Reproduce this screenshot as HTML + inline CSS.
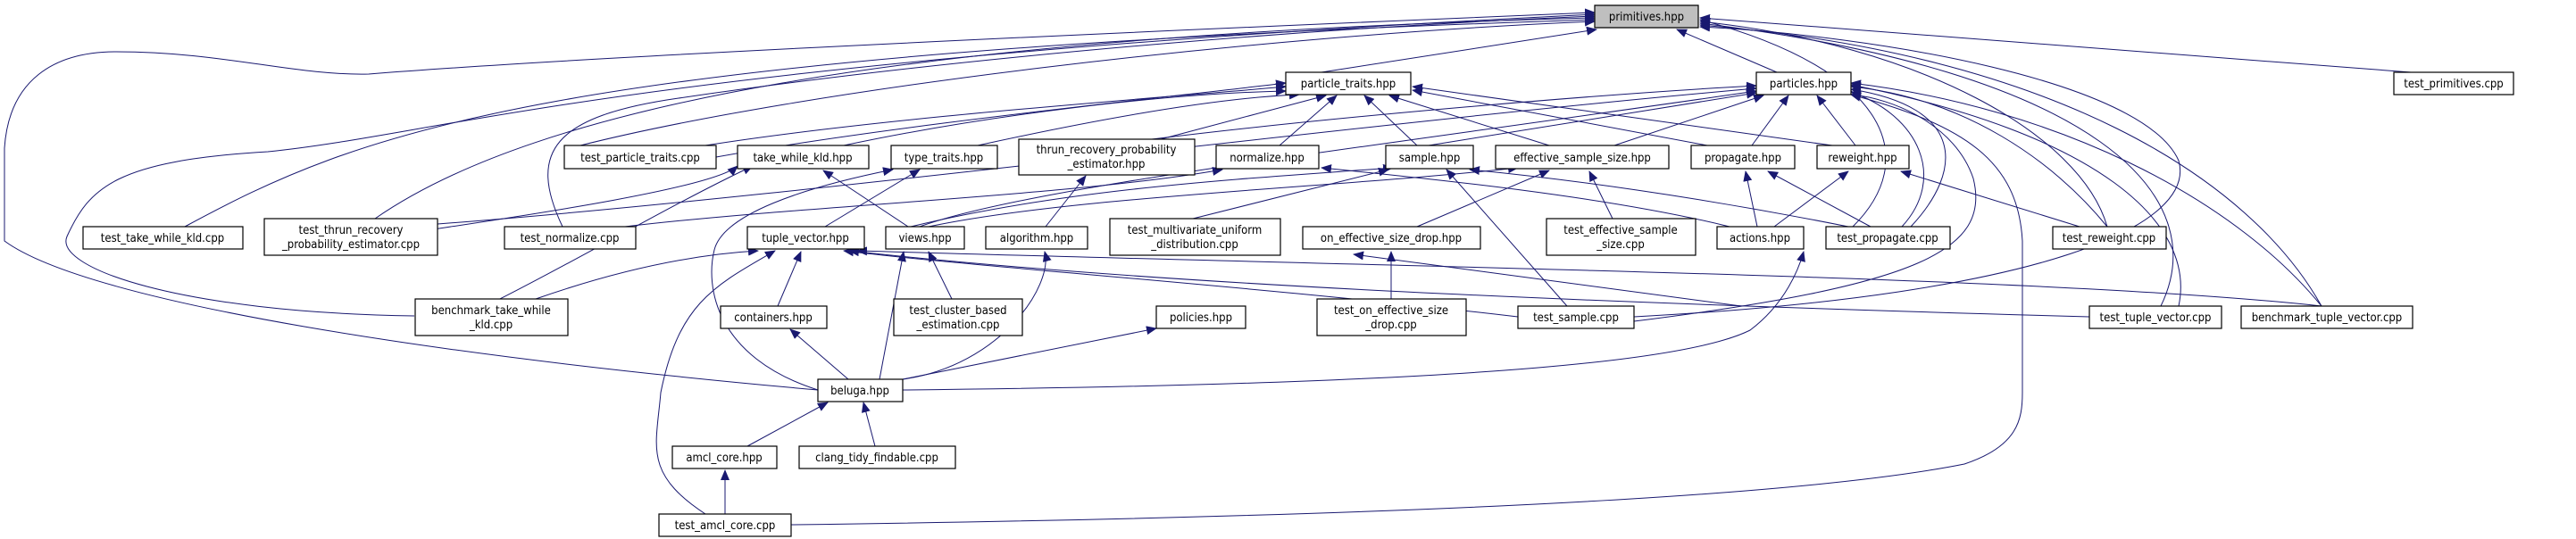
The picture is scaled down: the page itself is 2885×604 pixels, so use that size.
<!DOCTYPE html>
<html><head><meta charset="utf-8"><style>
html,body{margin:0;padding:0;background:#fff;}
svg{display:block}
text{font-family:"DejaVu Sans Condensed","Liberation Sans",sans-serif;font-size:13px;fill:#000}
.n{fill:#fff;stroke:#000;stroke-width:1.2}
.e{fill:none;stroke:#191970;stroke-width:1}
</style></head><body>
<svg width="2885" height="604" viewBox="0 0 2885 604" xmlns="http://www.w3.org/2000/svg">
<defs><marker id="a" markerWidth="12" markerHeight="10" refX="11" refY="5" orient="auto" markerUnits="userSpaceOnUse"><path d="M0,0 L12,5 L0,10 Z" fill="#191970"/></marker></defs>
<g class="e" marker-end="url(#a)">
<!-- to primitives -->
<path d="M1480,81 L1788,33"/>
<path d="M1990,81 L1878,33"/>
<path d="M2700,81 L1904,20"/>
<path d="M650,163 C900,100 1400,40 1786,24"/>
<path d="M207,254 C400,150 600,60 1786,22"/>
<path d="M420,245 C600,120 1000,40 1786,20"/>
<path d="M630,254 C590,170 620,130 760,110 C1100,60 1500,30 1786,18"/>
<path d="M464,354 C200,350 60,300 75,265 C100,210 130,180 300,170 C500,150 700,70 1786,16"/>
<path d="M916,437 C500,400 100,340 5,270 L5,166 C10,90 60,58 130,58 C250,58 330,85 413,83 C700,60 1400,30 1786,14"/>
<path d="M2075,254 C2150,180 2120,80 1904,22"/>
<path d="M2360,254 C2330,150 2150,50 1904,24"/>
<path d="M2420,343 C2480,220 2350,80 1904,26"/>
<path d="M2600,343 C2520,200 2300,60 1904,28"/>
<path d="M1830,355 C2300,330 2460,250 2440,180 C2400,90 2100,40 1904,30"/>
<!-- to particle_traits -->
<path d="M790,163 C1000,130 1300,110 1440,97"/>
<path d="M945,163 C1100,130 1300,105 1440,102"/>
<path d="M1095,163 C1200,140 1350,110 1455,106"/>
<path d="M1300,156 L1485,107"/>
<path d="M1433,163 L1497,107"/>
<path d="M1587,163 L1528,107"/>
<path d="M1735,163 L1556,107"/>
<path d="M1912,163 L1582,101"/>
<path d="M2052,163 L1582,97"/>
<path d="M802,176 C1000,140 1300,110 1440,93"/>
<!-- to particles -->
<path d="M1290,156 C1500,130 1800,105 1967,96"/>
<path d="M490,251 C900,220 1500,140 1967,99"/>
<path d="M1030,254 C1150,210 1500,170 1967,102"/>
<path d="M1600,163 L1967,104"/>
<path d="M1808,163 L1975,107"/>
<path d="M1962,163 L2003,107"/>
<path d="M2078,163 L2035,107"/>
<path d="M2130,254 C2180,200 2150,130 2073,103"/>
<path d="M2140,254 C2200,190 2200,120 2073,100"/>
<path d="M2360,254 C2300,180 2200,110 2073,97"/>
<path d="M2440,343 C2460,250 2350,150 2073,95"/>
<path d="M2600,343 C2500,220 2300,120 2073,93"/>
<path d="M1830,360 C2150,320 2230,280 2210,200 C2190,140 2120,110 2073,106"/>
<path d="M886,588 C1500,580 2000,560 2200,520 C2260,500 2265,470 2265,440 L2265,270 C2260,180 2200,140 2073,106"/>
<!-- mid -->
<path d="M465,260 C600,240 800,210 826,186"/>
<path d="M550,340 C650,290 750,230 843,186"/>
<path d="M1017,254 L922,191"/>
<path d="M916,437 C800,400 790,320 800,280 C810,240 900,210 1000,190"/>
<path d="M924,254 L1030,190"/>
<path d="M1171,254 L1216,197"/>
<path d="M700,254 C900,230 1200,220 1369,190"/>
<path d="M1937,254 C1800,220 1600,200 1480,188"/>
<path d="M1020,254 C1200,210 1400,200 1560,188"/>
<path d="M1336,245 L1555,190"/>
<path d="M1755,343 L1620,190"/>
<path d="M2070,254 C1900,220 1750,200 1646,190"/>
<path d="M1040,254 C1200,220 1500,210 1700,188"/>
<path d="M1587,254 L1735,191"/>
<path d="M1806,245 L1780,192"/>
<path d="M1968,254 L1955,192"/>
<path d="M2095,254 L1980,192"/>
<path d="M1987,254 L2070,192"/>
<path d="M2329,254 L2129,192"/>
<path d="M1950,343 L1516,285"/>
<path d="M1558,335 L1558,282"/>
<path d="M871,343 L897,282"/>
<path d="M1011,437 C1700,430 1900,400 1960,370 C2000,340 2015,300 2020,282"/>
<path d="M985,425 L1012,282"/>
<path d="M1066,335 L1040,282"/>
<path d="M1011,425 C1120,410 1180,320 1170,282"/>
<path d="M1011,425 L1295,368"/>
<path d="M950,425 L885,369"/>
<path d="M837,500 L927,451"/>
<path d="M980,500 L967,451"/>
<path d="M812,576 L812,527"/>
<path d="M790,576 C720,530 735,500 740,440 C760,340 800,320 868,281"/>
<path d="M600,335 C700,300 780,285 849,281"/>
<path d="M1700,355 C1400,320 1100,300 945,281"/>
<path d="M2340,355 C1800,340 1300,320 951,281"/>
<path d="M2600,343 C2300,310 1600,300 960,281"/>
</g>
<path d="M1786,6h116v25h-116z" fill="#bfbfbf" stroke="#000" stroke-width="1.2"/>
<g class="n">
<rect x="1440" y="81" width="140" height="25"/><rect x="1967" y="81" width="106" height="25"/><rect x="2681" y="81" width="134" height="25"/>
<rect x="632" y="163" width="170" height="26"/><rect x="826" y="163" width="147" height="26"/><rect x="998" y="163" width="119" height="26"/><rect x="1141" y="156" width="197" height="40"/><rect x="1362" y="163" width="115" height="26"/><rect x="1552" y="163" width="98" height="26"/><rect x="1675" y="163" width="194" height="26"/><rect x="1894" y="163" width="116" height="26"/><rect x="2035" y="163" width="103" height="26"/>
<rect x="93" y="254" width="179" height="25"/><rect x="296" y="245" width="194" height="41"/><rect x="565" y="254" width="147" height="25"/><rect x="837" y="254" width="131" height="25"/><rect x="992" y="254" width="88" height="25"/><rect x="1104" y="254" width="114" height="25"/><rect x="1243" y="245" width="191" height="41"/><rect x="1459" y="254" width="199" height="25"/><rect x="1732" y="245" width="167" height="41"/><rect x="1923" y="254" width="97" height="25"/><rect x="2045" y="254" width="139" height="25"/><rect x="2299" y="254" width="127" height="25"/>
<rect x="465" y="335" width="171" height="41"/><rect x="807" y="343" width="119" height="25"/><rect x="1001" y="335" width="144" height="41"/><rect x="1295" y="343" width="100" height="25"/><rect x="1475" y="335" width="167" height="41"/><rect x="1700" y="343" width="130" height="25"/><rect x="2340" y="343" width="148" height="25"/><rect x="2510" y="343" width="192" height="25"/>
<rect x="916" y="425" width="95" height="25"/><rect x="753" y="500" width="117" height="25"/><rect x="895" y="500" width="175" height="25"/><rect x="738" y="576" width="148" height="25"/>
</g>
<g text-anchor="middle">
<text x="1844" y="23">primitives.hpp</text>
<text x="1510" y="98">particle_traits.hpp</text><text x="2020" y="98">particles.hpp</text><text x="2748" y="98">test_primitives.cpp</text>
<text x="717" y="181">test_particle_traits.cpp</text><text x="899" y="181">take_while_kld.hpp</text><text x="1057" y="181">type_traits.hpp</text>
<text x="1239" y="172">thrun_recovery_probability</text><text x="1239" y="188">_estimator.hpp</text>
<text x="1419" y="181">normalize.hpp</text><text x="1601" y="181">sample.hpp</text><text x="1772" y="181">effective_sample_size.hpp</text><text x="1952" y="181">propagate.hpp</text><text x="2086" y="181">reweight.hpp</text>
<text x="182" y="271">test_take_while_kld.cpp</text>
<text x="393" y="262">test_thrun_recovery</text><text x="393" y="278">_probability_estimator.cpp</text>
<text x="638" y="271">test_normalize.cpp</text><text x="902" y="271">tuple_vector.hpp</text><text x="1036" y="271">views.hpp</text><text x="1161" y="271">algorithm.hpp</text>
<text x="1338" y="262">test_multivariate_uniform</text><text x="1338" y="278">_distribution.cpp</text>
<text x="1558" y="271">on_effective_size_drop.hpp</text>
<text x="1815" y="262">test_effective_sample</text><text x="1815" y="278">_size.cpp</text>
<text x="1971" y="271">actions.hpp</text><text x="2114" y="271">test_propagate.cpp</text><text x="2362" y="271">test_reweight.cpp</text>
<text x="550" y="352">benchmark_take_while</text><text x="550" y="368">_kld.cpp</text>
<text x="866" y="360">containers.hpp</text>
<text x="1073" y="352">test_cluster_based</text><text x="1073" y="368">_estimation.cpp</text>
<text x="1345" y="360">policies.hpp</text>
<text x="1558" y="352">test_on_effective_size</text><text x="1558" y="368">_drop.cpp</text>
<text x="1765" y="360">test_sample.cpp</text><text x="2414" y="360">test_tuple_vector.cpp</text><text x="2606" y="360">benchmark_tuple_vector.cpp</text>
<text x="963" y="442">beluga.hpp</text><text x="811" y="517">amcl_core.hpp</text><text x="982" y="517">clang_tidy_findable.cpp</text><text x="812" y="593">test_amcl_core.cpp</text>
</g>
</svg>
</body></html>
